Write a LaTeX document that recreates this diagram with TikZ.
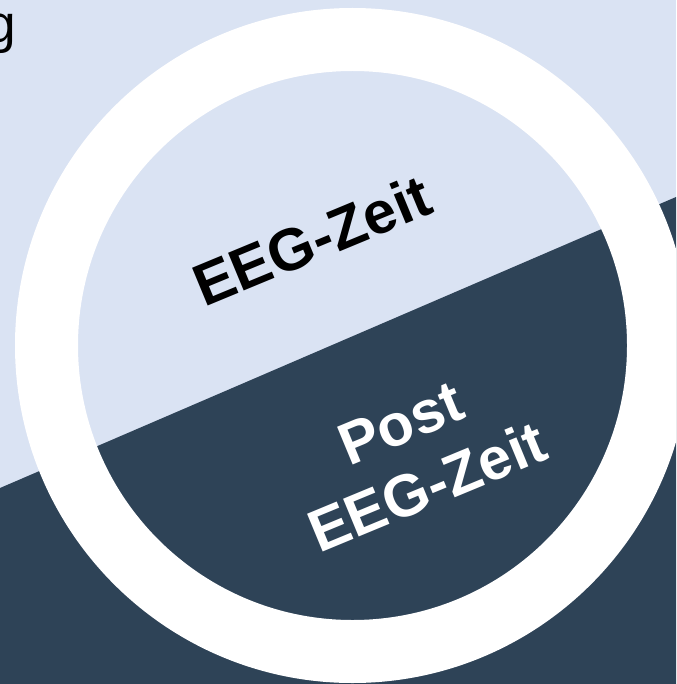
\documentclass[tikz,border=0pt]{standalone}
\usepackage{fontspec}
\setmainfont{Liberation Sans}
\usetikzlibrary{positioning}
\definecolor{eeglight}{HTML}{DAE3F3}
\definecolor{eegdark}{HTML}{2E4357}

\begin{document}
\begin{tikzpicture}[x=0.75pt, y=-0.75pt, every node/.style={outer sep=0pt, inner sep=0pt},
    phase/.style={font=\fontsize{44.5}{52}\selectfont\bfseries, rotate=22.5, align=center}]
        \useasboundingbox (0,0) rectangle (676,684);
        \clip (0,0) rectangle (676,684);
        % background split
        \fill[eeglight] (0,0) rectangle (676,684);
        \fill[eegdark] (0,488) -- (676,197) -- (676,684) -- (0,684) -- cycle;
        % white ring
        \fill[white, even odd rule] (352.5,345.5) circle (337.5) (352.5,345.5) circle (274.5);
        %\draw[red] (352.5,345.5) circle (274.5);
        \node (rest) [anchor=base east, font=\fontsize{40}{48}\selectfont] at (16,43) {g};
        \node (eeg) [phase, text=black] at (312,240) {EEG-Zeit};
        \node (post) [phase, text=white] at (414,455) {Post\\EEG-Zeit};
    \end{tikzpicture}
\end{document}
